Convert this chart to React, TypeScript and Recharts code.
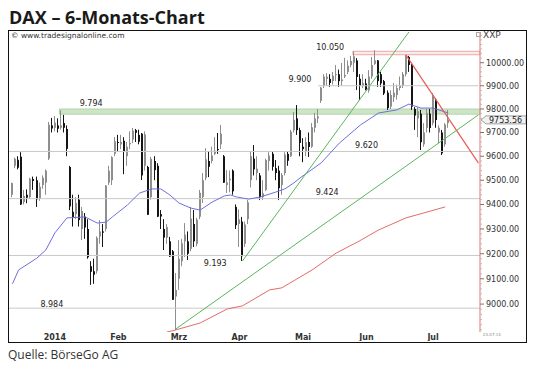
import React from 'react';
import {
  ComposedChart,
  Bar,
  Line,
  XAxis,
  YAxis,
  ReferenceLine,
  ReferenceArea,
  ReferenceDot,
} from 'recharts';

// x axis: trading-day index. first day of each month and month middles
const monthLabels = ['2014', 'Feb', 'Mrz', 'Apr', 'Mai', 'Jun', 'Jul'];
const monthStarts = [3, 25, 45, 66, 86, 107, 128];
const monthMiddles = [14, 35, 55, 75, 96, 117, 139];

// daily DAX bars, 23.12.2013 - 23.07.2014
const opens = [
  9440, 9560, 9585, 9598, 9410, 9440, 9430, 9505, 9500, 9425,
  9480, 9490, 9590, 9730, 9720, 9730, 9720, 9740, 9715, 9555,
  9370, 9360, 9420, 9300, 9350, 9300, 9150, 9130, 9130, 9270,
  9290, 9300, 9490, 9500, 9610, 9660, 9650, 9665, 9600, 9650,
  9670, 9710, 9690, 9695, 9560, 9555, 9430, 9580, 9560, 9360,
  9300, 9265, 9250, 9210, 9030, 9100, 9170, 9250, 9250, 9220,
  9320, 9240, 9350, 9430, 9510, 9580, 9580, 9610, 9630, 9650,
  9600, 9480, 9500, 9540, 9390, 9320, 9330, 9240, 9340, 9500,
  9590, 9530, 9520, 9430, 9460, 9580, 9610, 9550, 9540, 9480,
  9530, 9610, 9600, 9710, 9760, 9710, 9640, 9620, 9660, 9640,
  9720, 9760, 9835, 9900, 9930, 9930, 9920, 9950, 9950, 9920,
  9940, 9960, 9990, 10000, 10010, 9930, 9900, 9910, 9880, 9940,
  9995, 10010, 9950, 9920, 9870, 9810, 9850, 9860, 9890, 9900,
  9950, 10025, 9990, 9800, 9760, 9780, 9650, 9720, 9780, 9740,
  9840, 9700, 9700, 9650, 9740,
];
const highs = [
  9490, 9594, 9600, 9617, 9460, 9462, 9510, 9515, 9515, 9490,
  9520, 9545, 9745, 9762, 9770, 9760, 9794, 9775, 9730, 9560,
  9440, 9430, 9440, 9390, 9365, 9340, 9170, 9180, 9270, 9336,
  9320, 9480, 9560, 9600, 9681, 9690, 9690, 9680, 9660, 9705,
  9719, 9715, 9712, 9698, 9705, 9560, 9597, 9600, 9571, 9377,
  9340, 9320, 9268, 9215, 9123, 9255, 9260, 9324, 9290, 9390,
  9377, 9345, 9460, 9530, 9634, 9620, 9640, 9680, 9698, 9732,
  9605, 9542, 9540, 9545, 9400, 9380, 9349, 9330, 9418, 9620,
  9647, 9600, 9530, 9500, 9590, 9617, 9620, 9584, 9560, 9530,
  9617, 9620, 9711, 9787, 9817, 9720, 9676, 9680, 9700, 9740,
  9783, 9800, 9895, 9950, 9955, 9950, 9960, 9990, 9970, 9999,
  10021, 10010, 10030, 10050, 10020, 9950, 9950, 9930, 9968, 10025,
  10055, 10012, 9960, 9925, 9880, 9880, 9912, 9905, 9940, 9960,
  10034, 10030, 9995, 9808, 9808, 9796, 9740, 9800, 9800, 9869,
  9847, 9730, 9711, 9740, 9796,
];
const lows = [
  9430, 9550, 9545, 9398, 9400, 9405, 9425, 9460, 9390, 9415,
  9465, 9440, 9584, 9700, 9705, 9700, 9712, 9700, 9600, 9377,
  9310, 9340, 9310, 9255, 9260, 9180, 9076, 9080, 9120, 9240,
  9227, 9290, 9480, 9480, 9600, 9620, 9630, 9525, 9560, 9630,
  9655, 9660, 9650, 9501, 9540, 9357, 9420, 9500, 9349, 9300,
  9215, 9240, 9187, 9017, 8899, 9056, 9150, 9187, 9175, 9210,
  9227, 9230, 9340, 9406, 9500, 9513, 9570, 9605, 9610, 9630,
  9489, 9447, 9450, 9440, 9300, 9227, 9171, 9227, 9320, 9470,
  9520, 9500, 9418, 9418, 9455, 9540, 9540, 9500, 9418, 9440,
  9520, 9560, 9597, 9700, 9690, 9600, 9575, 9600, 9597, 9635,
  9700, 9740, 9826, 9890, 9900, 9895, 9905, 9920, 9895, 9900,
  9933, 9950, 9980, 9960, 9882, 9838, 9890, 9880, 9870, 9930,
  9990, 9895, 9895, 9860, 9796, 9800, 9830, 9840, 9880, 9890,
  9940, 9960, 9796, 9711, 9680, 9626, 9640, 9700, 9700, 9730,
  9720, 9655, 9605, 9640, 9720,
];
const closes = [
  9488, 9589, 9552, 9400, 9435, 9428, 9506, 9497, 9421, 9473,
  9510, 9540, 9733, 9717, 9742, 9716, 9730, 9720, 9631, 9392,
  9349, 9406, 9336, 9373, 9306, 9186, 9128, 9116, 9264, 9290,
  9285, 9478, 9540, 9596, 9663, 9657, 9660, 9618, 9640, 9656,
  9708, 9699, 9661, 9520, 9692, 9358, 9589, 9542, 9350, 9351,
  9265, 9308, 9189, 9017, 9056, 9180, 9242, 9277, 9200, 9342,
  9250, 9338, 9448, 9500, 9587, 9556, 9603, 9623, 9628, 9695,
  9490, 9491, 9506, 9454, 9315, 9339, 9190, 9318, 9409, 9600,
  9545, 9548, 9430, 9446, 9584, 9603, 9556, 9530, 9467, 9522,
  9607, 9581, 9703, 9754, 9710, 9656, 9630, 9659, 9639, 9722,
  9760, 9768, 9892, 9940, 9939, 9912, 9943, 9950, 9920, 9927,
  9947, 9987, 10008, 10028, 9938, 9900, 9912, 9883, 9940, 9990,
  10010, 9920, 9910, 9867, 9804, 9860, 9870, 9890, 9902, 9950,
  10029, 9990, 9810, 9772, 9790, 9659, 9700, 9783, 9719, 9859,
  9753, 9720, 9612, 9734, 9753.56,
];
const emptySlots = 10; // room to the right of the last bar

// moving averages: [day index, value]
const blueAverage = [
  [0, 9080], [2, 9135], [8, 9182], [11, 9215], [14, 9284], [18, 9345],
  [24, 9349], [28, 9324], [31, 9328], [33, 9349], [38, 9398], [42, 9447],
  [46, 9464], [49, 9464], [52, 9439], [55, 9406], [59, 9385], [62, 9377],
  [66, 9410], [70, 9435], [72, 9439], [74, 9431], [78, 9422], [82, 9431],
  [87, 9451], [90, 9464], [93, 9489], [95, 9509], [102, 9572], [108, 9655],
  [115, 9732], [121, 9783], [127, 9796], [131, 9821], [135, 9804],
  [139, 9804], [144, 9783],
];
const redAverage = [
  [51, 8891], [53, 8896], [62, 8926], [71, 8981], [76, 8993], [85, 9056],
  [89, 9064], [99, 9135], [107, 9203], [114, 9247], [121, 9296],
  [130, 9345], [137, 9369], [143, 9390],
];

// marked levels
const levelValues = [9900, 9620, 9424, 9193, 8984];
const levelNames = ['9.900', '9.620', '9.424', '9.193', '8.984'];
const resistanceBand = [9778, 9800];
const resistanceName = '9.794';
const highBand = [10035, 10050];
const highName = '10.050';

// trend lines: [day index, value] pairs
const steepTrend = [[76, 9171], [131, 10135]];
const flatTrend = [[54, 8903], [154, 9775]];
const downTrend = [[130, 10034], [154, 9571]];

const majorTicks = [9000, 9100, 9200, 9300, 9400, 9500, 9600, 9700, 9800, 9900, 10000];

// layout for the level captions (day index, side, gap)
const levelLabelSpots = [
  { k: 95, side: 'top', gap: 4 },
  { k: 117, side: 'top', gap: 3 },
  { k: 104, side: 'top', gap: 4 },
  { k: 67, side: 'bottom', gap: 5 },
  { k: 13, side: 'top', gap: 1 },
];
const nineHundredFrom = 101;
const resistanceFrom = 16;
const highFrom = 113;

const FONT = 'DejaVu Sans';
const AXIS_RED = '#e57373';

const total = opens.length + emptySlots;
const rows: any[] = [];
for (let k = 0; k < total; k++) {
  rows.push({ k, o: opens[k], h: highs[k], l: lows[k], c: closes[k], ma1: null, ma2: null });
}
blueAverage.forEach(([k, v]) => { rows[k].ma1 = v; });
redAverage.forEach(([k, v]) => { rows[k].ma2 = v; });

const minorTicks: number[] = [];
for (let v = 8900; v <= 10120; v += 20) minorTicks.push(v);

const Candle = (props: any) => {
  const { x, y, width, height, payload } = props;
  if (!payload || payload.h == null || !isFinite(y) || !isFinite(height)) return null;
  const { o, h, l, c } = payload;
  const lh = Math.log(h);
  const ll = Math.log(l);
  const at = (v: number) => y + ((lh - Math.log(v)) / (lh - ll || 1)) * height;
  const px = Math.round(x + width / 2);
  const up = c >= o;
  const col = up ? '#8e8e8e' : '#151515';
  const top = at(Math.max(o, c));
  const bot = at(Math.min(o, c));
  return (
    <g>
      <line x1={px - 0.5} x2={px - 0.5} y1={y} y2={y + height} stroke={col} strokeWidth={1} />
      <rect x={px - 1} y={top} width={2} height={Math.max(1, bot - top)} fill={col} />
    </g>
  );
};

const PriceTick = ({ x, y, payload }: any) => {
  const v = payload.value;
  const major = majorTicks.includes(v);
  return (
    <g>
      <line x1={x} x2={x + (major ? 4 : 2)} y1={y} y2={y} stroke={major ? '#777' : '#bbb'} />
      {major && (
        <text x={x + 6} y={y + 3} fontSize={8} fontFamily={FONT} fill="#333">
          {v.toFixed(2)}
        </text>
      )}
    </g>
  );
};

const MonthTick = ({ x, y, payload }: any) => {
  const i = monthMiddles.indexOf(payload.value);
  return (
    <text x={x} y={y + 8} textAnchor="middle" fontSize={8} fontWeight="bold" fontFamily={FONT} fill="#333">
      {monthLabels[i]}
    </text>
  );
};

const lastClose = closes[closes.length - 1];

const PriceTag = (props: any) => {
  const { viewBox } = props;
  const r = viewBox.x + viewBox.width;
  const y = viewBox.y;
  return (
    <g>
      <path
        d={`M${r + 1},${y} L${r + 6},${y - 4} L${r + 46},${y - 4} L${r + 46},${y + 4} L${r + 6},${y + 4} Z`}
        fill="#f1f1f1"
        stroke="#8a8a8a"
        strokeWidth={0.8}
      />
      <text x={r + 9} y={y + 3} fontSize={8} fontFamily={FONT} fill="#222">
        {lastClose.toFixed(2)}
      </text>
    </g>
  );
};

const labelStyle = { fontSize: 8, fill: '#222', fontFamily: FONT };

const App: React.FC = () => {
  return (
    <div style={{ position: 'absolute', left: 0, top: 0, width: 540, height: 370, background: '#fff', overflow: 'hidden' }}>
      <div
        style={{
          position: 'absolute', left: 9, top: 8, fontFamily: 'Open Sans', fontWeight: 700,
          fontSize: 18, lineHeight: '18px', color: '#1a1a1a', whiteSpace: 'nowrap',
        }}
      >
        DAX – 6-Monats-Chart
      </div>

      <div
        style={{
          position: 'absolute', left: 8, top: 30, width: 519, height: 313,
          border: '1px solid #111', boxSizing: 'border-box',
        }}
      />

      <div style={{ position: 'absolute', left: 9, top: 31 }}>
        <ComposedChart width={517} height={310} data={rows} margin={{ top: 1, right: 0, bottom: 0, left: 0 }}>
          <XAxis
            dataKey="k"
            type="category"
            height={0}
            ticks={monthStarts}
            interval={0}
            tick={false}
            tickSize={2}
            tickLine={{ stroke: '#9a9a9a' }}
            axisLine={{ stroke: AXIS_RED }}
            padding={{ left: 2, right: 0 }}
          />
          <XAxis
            xAxisId="m"
            dataKey="k"
            type="category"
            height={9}
            ticks={monthMiddles}
            interval={0}
            tickSize={0}
            tickMargin={0}
            tickLine={false}
            axisLine={false}
            tick={<MonthTick />}
            padding={{ left: 2, right: 0 }}
          />
          <YAxis
            orientation="right"
            width={46}
            scale="log"
            domain={[8891, 10135]}
            allowDataOverflow
            ticks={minorTicks}
            interval={0}
            tickSize={0}
            tickMargin={0}
            tickLine={false}
            axisLine={{ stroke: AXIS_RED }}
            tick={<PriceTick />}
          />

          {levelValues.map((v, i) =>
            i === 0 ? (
              <ReferenceLine
                key={v}
                segment={[{ x: nineHundredFrom, y: v }, { x: total - 1, y: v }]}
                stroke="#c9c9c9"
                ifOverflow="visible"
              />
            ) : (
              <ReferenceLine key={v} y={v} stroke="#c9c9c9" />
            )
          )}
          <ReferenceArea
            x1={resistanceFrom}
            x2={total - 1}
            y1={resistanceBand[0]}
            y2={resistanceBand[1]}
            fill="#cde5c6"
            fillOpacity={1}
            stroke="#b3d6aa"
            ifOverflow="visible"
          />
          <ReferenceArea
            x1={highFrom}
            x2={total - 1}
            y1={highBand[0]}
            y2={highBand[1]}
            fill="#fbeaea"
            fillOpacity={1}
            stroke="#eba9a9"
            ifOverflow="visible"
          />

          <Line dataKey="ma2" stroke="#e66a6a" strokeWidth={1} dot={false} connectNulls isAnimationActive={false} />
          <Line dataKey="ma1" stroke="#6f6fdc" strokeWidth={1} dot={false} connectNulls isAnimationActive={false} />

          <ReferenceLine
            segment={steepTrend.map(([k, v]) => ({ x: k, y: v }))}
            stroke="#5bb55b"
            strokeWidth={1}
            ifOverflow="visible"
          />
          <ReferenceLine
            segment={flatTrend.map(([k, v]) => ({ x: k, y: v }))}
            stroke="#5bb55b"
            strokeWidth={1}
            ifOverflow="visible"
          />

          <Bar dataKey={(d: any) => (d.h == null ? null : [d.l, d.h])} shape={<Candle />} isAnimationActive={false} />

          <ReferenceLine
            segment={downTrend.map(([k, v]) => ({ x: k, y: v }))}
            stroke="#e65c58"
            strokeWidth={1.2}
            ifOverflow="visible"
          />

          {levelValues.map((v, i) => (
            <ReferenceDot
              key={'lab' + v}
              x={levelLabelSpots[i].k}
              y={v}
              r={0}
              fill="none"
              stroke="none"
              ifOverflow="visible"
              label={{ value: levelNames[i], position: levelLabelSpots[i].side as any, offset: levelLabelSpots[i].gap, ...labelStyle }}
            />
          ))}
          <ReferenceDot
            x={26}
            y={resistanceBand[1]}
            r={0}
            fill="none"
            stroke="none"
            ifOverflow="visible"
            label={{ value: resistanceName, position: 'top', offset: 3, ...labelStyle }}
          />
          <ReferenceDot
            x={105}
            y={highBand[1]}
            r={0}
            fill="none"
            stroke="none"
            ifOverflow="visible"
            label={{ value: highName, position: 'top', offset: 1, ...labelStyle }}
          />

          <ReferenceLine y={lastClose} stroke="none" ifOverflow="visible" label={(p: any) => <PriceTag {...p} />} />
        </ComposedChart>
      </div>

      <div
        style={{
          position: 'absolute', left: 11, top: 32, fontFamily: FONT, fontSize: 7.5,
          lineHeight: '8px', color: '#333', whiteSpace: 'nowrap',
        }}
      >
        © www.tradesignalonline.com
      </div>
      <div style={{ position: 'absolute', left: 476, top: 32, width: 3, height: 3, border: '1px solid #aaa' }} />
      <div
        style={{
          position: 'absolute', left: 483, top: 31, fontFamily: FONT, fontSize: 9,
          lineHeight: '9px', color: '#444', whiteSpace: 'nowrap',
        }}
      >
        XXP
      </div>
      <div
        style={{
          position: 'absolute', left: 483, top: 333, fontFamily: FONT, fontSize: 4,
          lineHeight: '4px', color: '#888', whiteSpace: 'nowrap',
        }}
      >
        23.07.14
      </div>

      <div
        style={{
          position: 'absolute', left: 8, top: 349, fontFamily: 'Open Sans', fontSize: 12,
          lineHeight: '12px', color: '#333', whiteSpace: 'nowrap',
        }}
      >
        Quelle: BörseGo AG
      </div>
    </div>
  );
};

export default App;
